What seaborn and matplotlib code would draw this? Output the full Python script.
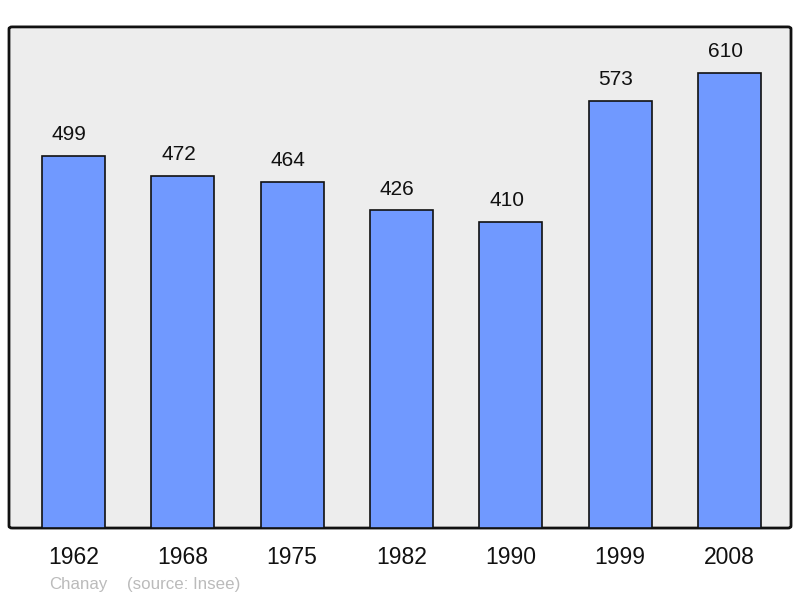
import matplotlib
matplotlib.use('Agg')
import matplotlib.pyplot as plt
from matplotlib.patches import FancyBboxPatch
import pandas as pd
import seaborn as sns

# data
years = ['1962', '1968', '1975', '1982', '1990', '1999', '2008']
population = [499, 472, 464, 426, 410, 573, 610]

df = pd.DataFrame({'year': years, 'population': population})

sns.set_style('white')
plt.rcParams['font.family'] = ['Liberation Sans', 'DejaVu Sans']

fig = plt.figure(figsize=(8, 5.98), dpi=100)
ax = fig.add_axes([0.01125, 0.117, 0.9775, 0.838])
ax.set_facecolor('none')

# rounded frame behind the bars
frame = FancyBboxPatch((0, 0), 1, 1, boxstyle='round,pad=0,rounding_size=0.004',
                       transform=ax.transAxes, facecolor='#ededed',
                       edgecolor='#111111', linewidth=2, zorder=0, clip_on=False)
ax.add_patch(frame)

sns.barplot(data=df, x='year', y='population', color='#7099ff', width=0.576,
            edgecolor='#111111', linewidth=1.2, saturation=1, ax=ax, zorder=2)

for i, v in enumerate(population):
    ax.annotate(str(v), (i, v), xytext=(-3, 8.5), textcoords='offset points',
                ha='center', va='bottom', fontsize=15, color='#111111')

ax.set_xlim(-0.59, 6.563)
ax.set_ylim(0, 672)
for s in ax.spines.values():
    s.set_visible(False)
ax.set_yticks([])
ax.set_xlabel('')
ax.set_ylabel('')
ax.tick_params(axis='x', length=0, labelsize=16.5, pad=13, colors='#111111')

fig.text(49 / 800, 1 - 585 / 598, 'Chanay', fontsize=12.2, color='#bbbbbb', va='center')
fig.text(127 / 800, 1 - 585 / 598, '(source: Insee)', fontsize=12.2, color='#bbbbbb', va='center')

fig.savefig('out.png', dpi=100)
